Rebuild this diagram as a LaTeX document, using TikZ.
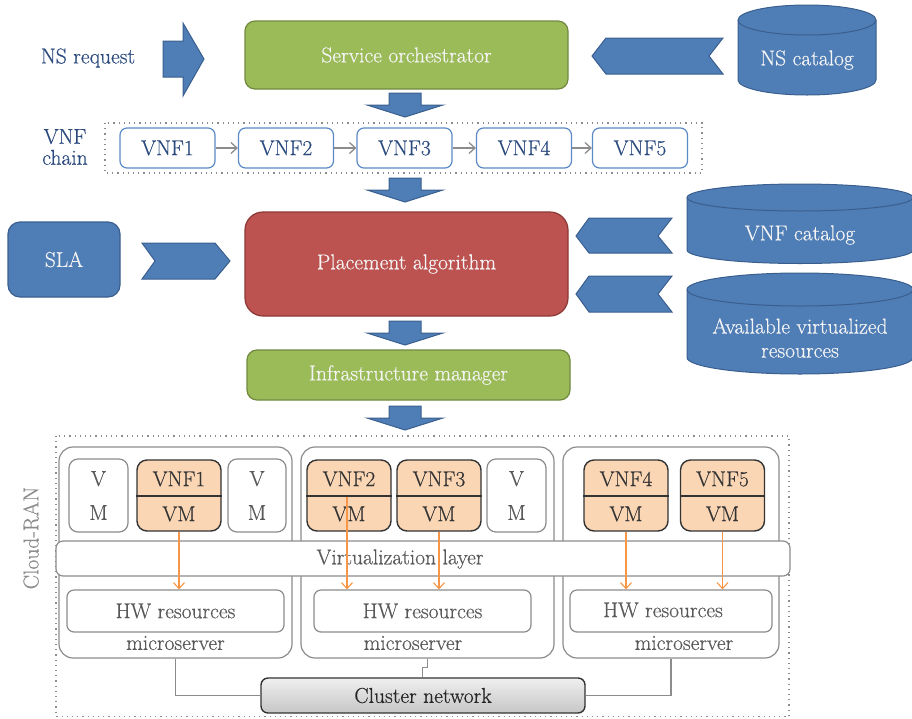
\documentclass[tikz,border=0pt]{standalone}
\usepackage{fontspec}
\setmainfont{Latin Modern Roman}[UprightFeatures={FakeBold=0.45}]
\usetikzlibrary{arrows.meta,calc}
\definecolor{blueF}{HTML}{4F7DB6}
\definecolor{blueD}{HTML}{3A5F8F}
\definecolor{greenF}{HTML}{9BBB59}
\definecolor{greenD}{HTML}{71893F}
\definecolor{redF}{HTML}{BD5350}
\definecolor{redD}{HTML}{8C3836}
\definecolor{navy}{HTML}{2B4A7E}
\definecolor{chainB}{HTML}{5B8AC6}
\definecolor{orF}{HTML}{FAD6B5}
\definecolor{orL}{HTML}{F79646}
\definecolor{grB}{HTML}{8C8C8C}
\definecolor{grT}{HTML}{595959}
\definecolor{dkT}{HTML}{333333}
\definecolor{cwhite}{HTML}{F4F4F4}
\tikzset{
  blockshape/.style={fill=blueF, draw=blueD, line width=1pt},
  greenbox/.style={rectangle, rounded corners=10pt, fill=greenF, draw=greenD, line width=1.2pt, text=cwhite, inner sep=0pt},
  redbox/.style={rectangle, rounded corners=18pt, fill=redF, draw=redD, line width=1.2pt, text=cwhite, inner sep=0pt},
  bluebox/.style={rectangle, rounded corners=12pt, fill=blueF, draw=blueD, line width=1.2pt, text=cwhite, inner sep=0pt},
  chainbox/.style={rectangle, rounded corners=7pt, fill=white, draw=chainB, line width=1.2pt, text=navy, inner sep=0pt, minimum width=95pt, minimum height=40pt},
  chainarrow/.style={draw=grB, line width=1.3pt, -{Straight Barb[length=6pt,width=11pt]}},
  dotbox/.style={draw=grB, line width=1.2pt, dash pattern=on 1.2pt off 4pt},
  msbox/.style={rectangle, rounded corners=14pt, draw=grB, line width=1.2pt, fill=white, inner sep=0pt},
  vmbox/.style={rectangle, rounded corners=9pt, draw=grB, line width=1.2pt, fill=white, inner sep=0pt, text=grT},
  orbox/.style={rectangle, rounded corners=10pt, draw=dkT, line width=1.4pt, fill=orF, inner sep=0pt},
  thinbox/.style={rectangle, rounded corners=7pt, draw=grB, line width=1.2pt, fill=white, inner sep=0pt, text=grT},
  orarrow/.style={draw=orL, line width=1.1pt, -{Straight Barb[length=6pt,width=11pt]}},
  wire/.style={draw=grB, line width=1.2pt},
  cyl/.style={fill=blueF, draw=blueD, line width=1pt}
}
\newcommand\dnarr[1]{\fill[blockshape] (389,#1) -- (421,#1) -- (421,#1+12) -- (443,#1+12) -- (405,#1+24) -- (367,#1+12) -- (389,#1+12) -- cycle;}
\newcommand\cylshape[5]{% cx, rx, ytop, ybot, ry
  \filldraw[cyl] ({#1-#2},#3) arc[start angle=180, end angle=360, x radius=#2, y radius=#5] -- ({#1+#2},#4) arc[start angle=0, end angle=180, x radius=#2, y radius=#5] -- cycle;
  \draw[cyl, fill=none] ({#1-#2},#3) arc[start angle=180, end angle=0, x radius=#2, y radius=#5];}
\begin{document}
\begin{tikzpicture}[x=1pt,y=-1pt, font=\fontsize{21.5}{24}\selectfont]
\useasboundingbox (0,0) rectangle (912,718);

% ---- top part
\node[text=navy] (nsreq) at (88,58) {NS request};
\fill[blockshape] (163,41) -- (183,41) -- (183,23) -- (204,59) -- (183,96) -- (183,77) -- (163,77) -- cycle;

\node[greenbox, minimum width=323pt, minimum height=68pt] (orch) at (406.5,55) {Service orchestrator};

\fill[blockshape] (592,56) -- (606,38) -- (723,38) -- (709,56) -- (723,74) -- (606,74) -- cycle;
\cylshape{807}{69}{20}{80}{15}
\node[text=cwhite] (nscat) at (807,60) {NS catalog};

\dnarr{93}

% ---- VNF chain
\draw[dotbox] (105,123) rectangle (702,173);
\node[text=navy, align=center, font=\fontsize{21.5}{21}\selectfont] (chainlbl) at (65,147) {VNF\\chain};
\node[chainbox] (c1) at (167.5,148) {VNF1};
\node[chainbox] (c2) at (286,148) {VNF2};
\node[chainbox] (c3) at (404.5,148) {VNF3};
\node[chainbox] (c4) at (524,148) {VNF4};
\node[chainbox] (c5) at (640,148) {VNF5};
\draw[chainarrow] (c1) -- (c2);
\draw[chainarrow] (c2) -- (c3);
\draw[chainarrow] (c3) -- (c4);
\draw[chainarrow] (c4) -- (c5);

\dnarr{178}

% ---- placement
\node[bluebox, minimum width=112pt, minimum height=75pt] (sla) at (64,259.5) {SLA};
\fill[blockshape] (142,243) -- (215,243) -- (230,261) -- (215,279) -- (142,279) -- (155,261) -- cycle;
\node[redbox, minimum width=323pt, minimum height=104pt] (place) at (406.5,264) {Placement algorithm};

\fill[blockshape] (576,236) -- (589,218) -- (672,218) -- (658,236) -- (672,253) -- (589,253) -- cycle;
\fill[blockshape] (576,294) -- (589,276) -- (672,276) -- (658,294) -- (672,312) -- (589,312) -- cycle;
\cylshape{800}{113}{197.5}{250}{13.5}
\node[text=cwhite] (vnfcat) at (800,235) {VNF catalog};
\cylshape{800}{113}{289.5}{357.5}{16.5}
\node[text=cwhite, align=center, font=\fontsize{21.5}{24}\selectfont] (avail) at (800,338) {Available virtualized\\resources};

\dnarr{321}
\node[greenbox, minimum width=323pt, minimum height=50pt] (infra) at (408.5,375) {Infrastructure manager};
\dnarr{406}

% ---- Cloud-RAN
\draw[dotbox] (56,436) rectangle (789,716.5);
\node[text=grB, rotate=90] (cran) at (31,538) {Cloud-RAN};

\node[msbox, minimum width=233pt, minimum height=211pt] (ms1) at (175.5,552.5) {};
\node[msbox, minimum width=253pt, minimum height=211pt] (ms2) at (427.5,552.5) {};
\node[msbox, minimum width=216pt, minimum height=211pt] (ms3) at (671,552.5) {};

% VM boxes
\node[vmbox, minimum width=59pt, minimum height=73pt, align=center, font=\fontsize{21.5}{34}\selectfont] (vm1) at (98.5,495.5) {V\\M};
\node[vmbox, minimum width=58pt, minimum height=73pt, align=center, font=\fontsize{21.5}{34}\selectfont] (vm2) at (257,495.5) {V\\M};
\node[vmbox, minimum width=59pt, minimum height=73pt, align=center, font=\fontsize{21.5}{34}\selectfont] (vm3) at (516.5,495.5) {V\\M};

% Virtualization layer
\node[thinbox, minimum width=734pt, minimum height=35pt] (virt) at (423,558.5) {};
\node[text=grT] (virtt) at (400,559) {Virtualization layer};

% orange VNF/VM boxes
\foreach \nm/\cx/\lab in {o1/179/VNF1, o2/349/VNF2, o3/439/VNF3, o4/626/VNF4, o5/722.5/VNF5}{
  \node[orbox, minimum width=84pt, minimum height=71pt] (\nm) at (\cx,495.5) {};
  \draw[draw=dkT, line width=1.4pt] (\nm.west |- 0,496) -- (\nm.east |- 0,496);
  \node[text=dkT] (\nm t) at (\cx,479) {\lab};
  \node[text=dkT] (\nm b) at (\cx,514) {VM};
}

% HW resources
\node[thinbox, minimum width=217pt, minimum height=42pt] (hw1) at (175.5,611) {HW resources};
\node[thinbox, minimum width=217pt, minimum height=42pt] (hw2) at (422.5,611) {HW resources};
\node[thinbox, minimum width=202pt, minimum height=42pt] (hw3) at (671,611) {};
\node[text=grT] (hw3t) at (663,610) {HW resources};

\node[text=grT] (m1) at (175.5,643) {microserver};
\node[text=grT] (m2) at (413,643) {microserver};
\node[text=grT] (m3) at (684,643) {microserver};

% orange arrows
\coordinate (a2) at ($(o2.center)+(-2,1)$);
\draw[orarrow] (o1.south) -- (o1.south |- hw1.north);
\draw[orarrow] (a2) -- (a2 |- hw2.north);
\draw[orarrow] (o3.south) -- (o3.south |- hw2.north);
\draw[orarrow] (o4.south) -- (o4.south |- hw3.north);
\draw[orarrow] (o5.south) -- (o5.south |- hw3.north);

% Cluster network
\node[rectangle, rounded corners=7pt, draw=dkT, line width=1.4pt, top color=gray!12, bottom color=gray!45, minimum width=324pt, minimum height=35pt, inner sep=0pt, text=black!85] (cluster) at (423,695.5) {Cluster network};
\draw[wire] (ms1.south) |- (cluster.west);
\draw[wire] (ms3.south) |- (cluster.east);
\draw[wire] (ms2.south) -- ++(0,9) -- ++(-5,0) coordinate (jog) -- (jog |- cluster.north);

\end{tikzpicture}
\end{document}
